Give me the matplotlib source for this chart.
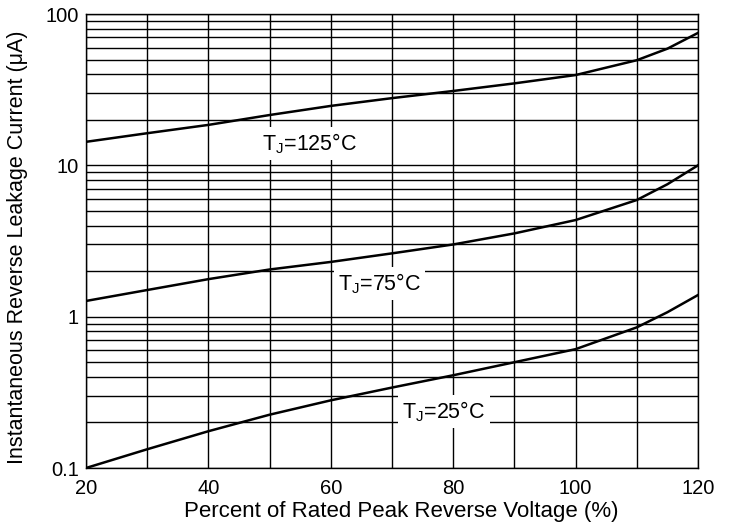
import matplotlib
matplotlib.use("Agg")
import matplotlib.pyplot as plt
from matplotlib.ticker import LogLocator, FixedLocator, NullFormatter

plt.rcParams['font.family'] = ['Liberation Sans', 'DejaVu Sans']
plt.rcParams['mathtext.fontset'] = 'custom'
plt.rcParams['mathtext.rm'] = 'Liberation Sans'
plt.rcParams['mathtext.it'] = 'Liberation Sans'

# percent of rated peak reverse voltage
voltage = [20, 30, 40, 50, 60, 70, 80, 90, 100, 110, 115, 120]
# leakage current (uA) per junction temperature
i_125 = [14.3, 16.3, 18.5, 21.5, 24.7, 27.8, 31.0, 34.8, 39.5, 49.5, 59, 75]
i_75 = [1.27, 1.5, 1.77, 2.05, 2.3, 2.62, 3.0, 3.55, 4.35, 5.9, 7.5, 10.0]
i_25 = [0.1, 0.133, 0.175, 0.225, 0.28, 0.34, 0.41, 0.5, 0.61, 0.85, 1.07, 1.39]

labels = ['T$_{\\mathrm{J}}$=125°C', 'T$_{\\mathrm{J}}$=75°C', 'T$_{\\mathrm{J}}$=25°C']
label_pos = [(56.5, 14.0), (68, 1.66), (78.5, 0.237)]

fig = plt.figure(figsize=(7.31, 5.32), dpi=100)
ax = fig.add_axes([86 / 731, 1 - 468 / 532, 612 / 731, 454 / 532])

for curve in (i_125, i_75, i_25):
    ax.plot(voltage, curve, color='black', lw=1.8, zorder=3)

ax.set_yscale('log')
ax.set_xlim(20, 120)
ax.set_ylim(0.1, 100)
ax.set_xticks([20, 40, 60, 80, 100, 120])
ax.xaxis.set_minor_locator(FixedLocator(range(30, 120, 20)))
ax.set_yticks([0.1, 1, 10, 100])
ax.set_yticklabels(['0.1', '1', '10', '100'])
ax.yaxis.set_minor_locator(LogLocator(base=10, subs=range(2, 10)))
ax.yaxis.set_minor_formatter(NullFormatter())
ax.grid(True, which='both', color='black', lw=1.0)
ax.tick_params(which='both', length=0, labelsize=14.5)
ax.tick_params(axis='x', pad=8)
ax.tick_params(axis='y', pad=5)
for s in ax.spines.values():
    s.set_linewidth(1.0)

for txt, (x, y) in zip(labels, label_pos):
    ax.text(x, y, txt, fontsize=15.5, ha='center', va='center', zorder=4,
            bbox=dict(facecolor='white', edgecolor='none', pad=3))

ax.set_xlabel('Percent of Rated Peak Reverse Voltage (%)', fontsize=16)
ax.xaxis.set_label_coords(0.515, -0.072)
ax.set_ylabel('Instantaneous Reverse Leakage Current (μA)', fontsize=15.5)
ax.yaxis.set_label_coords(-0.094, 0.487)

fig.savefig('out.png', dpi=100)
